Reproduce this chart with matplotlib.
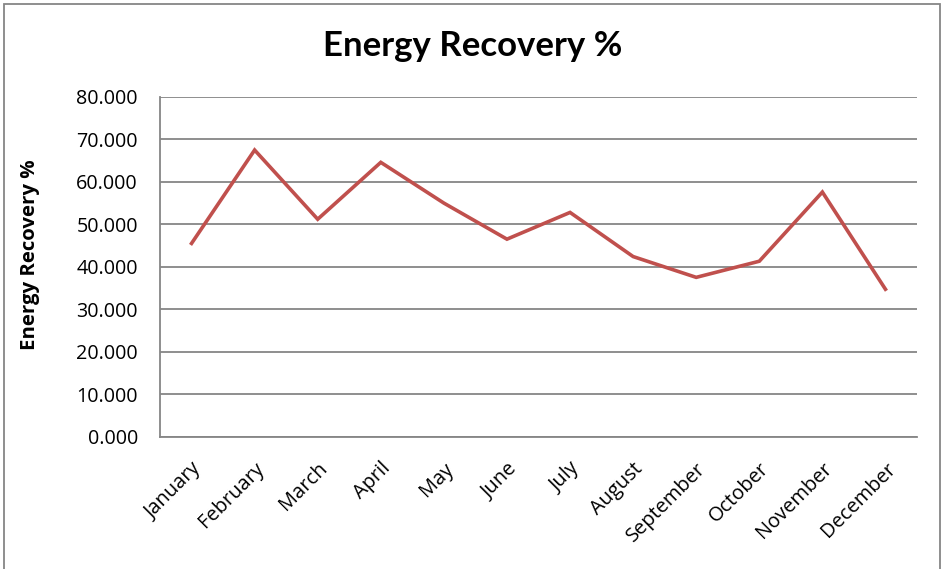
import matplotlib
matplotlib.use("Agg")
import matplotlib.pyplot as plt
from matplotlib.ticker import FormatStrFormatter
from matplotlib.patches import Rectangle
from matplotlib.transforms import ScaledTranslation

months = ["January", "February", "March", "April", "May", "June", "July",
          "August", "September", "October", "November", "December"]
recovery = [45.5, 67.5, 51.2, 64.6, 55.0, 46.5, 52.8, 42.4, 37.5, 41.3, 57.6, 34.7]
yticks = [0, 10, 20, 30, 40, 50, 60, 70, 80]

plt.rcParams['font.family'] = ['Open Sans', 'DejaVu Sans']

fig = plt.figure(figsize=(9.42, 5.69), dpi=100)
W, H = 942, 569
ax = fig.add_axes([160 / W, 1 - 436.5 / H, (917 - 160) / W, (436.5 - 97) / H])

x = list(range(len(months)))
ax.plot(x, recovery, color="#C0504D", linewidth=2.6, solid_joinstyle="miter", zorder=3)

ax.set_xlim(-0.5, len(months) - 0.5)
ax.set_ylim(0, 80)
ax.set_yticks(yticks)
ax.yaxis.set_major_formatter(FormatStrFormatter("%.3f"))
ax.set_xticks(x)
ax.set_xticklabels(months, rotation=45, ha="right", va="top", rotation_mode="anchor", fontsize=14.4)
offset = ScaledTranslation(5 / 72, 0, fig.dpi_scale_trans)
for lbl in ax.get_xticklabels():
    lbl.set_transform(lbl.get_transform() + offset)
ax.tick_params(axis="y", labelsize=14.2, length=0, pad=16)
ax.tick_params(axis="x", length=0, pad=16)
ax.grid(axis="y", color="#868686", linewidth=1.3)
ax.set_axisbelow(True)
for s in ["top", "right"]:
    ax.spines[s].set_visible(False)
for s in ["left", "bottom"]:
    ax.spines[s].set_color("#868686")
    ax.spines[s].set_linewidth(1.3)

ax.set_ylabel("Energy Recovery %", fontsize=14.7, fontweight="bold")
ax.yaxis.set_label_coords(-120 / 757, 0.535)
fig.text(473 / W, 1 - 46 / H, "Energy Recovery %", fontsize=25, fontweight="bold",
         ha="center", va="center", family=["Lato", "DejaVu Sans"])

fig.patches.append(Rectangle((4 / W, -0.01), 936 / W, 1 - 4 / H + 0.01, transform=fig.transFigure,
                             fill=False, edgecolor="#868686", linewidth=1.3))

fig.savefig("out.png", dpi=100)
